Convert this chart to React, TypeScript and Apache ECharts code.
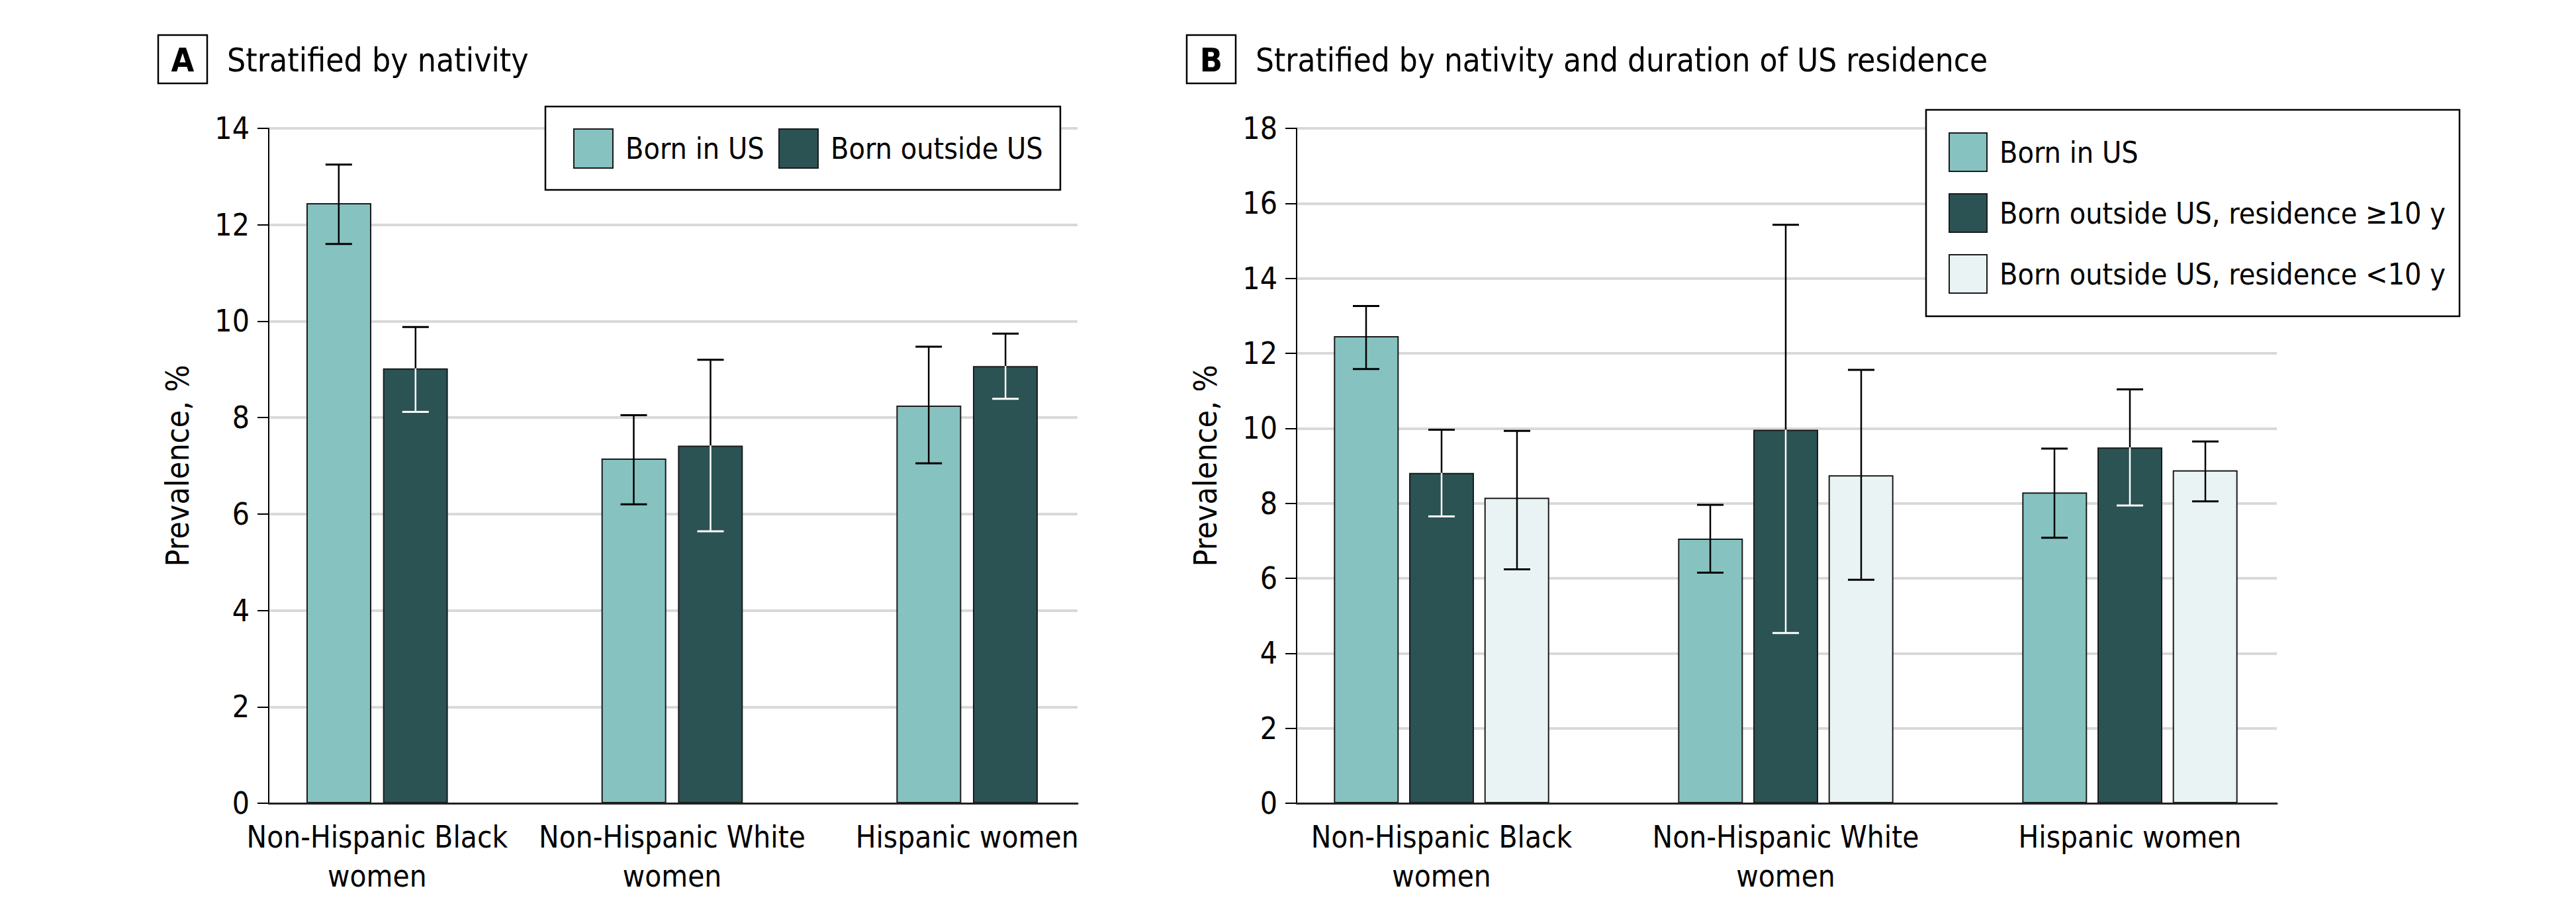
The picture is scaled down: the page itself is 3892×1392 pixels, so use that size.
import React, { useEffect, useRef } from "react";
import * as echarts from "echarts";

const categories = ["Non-Hispanic Black women", "Non-Hispanic White women", "Hispanic women"];

// Panel A: stratified by nativity
const seriesNamesA = ["Born in US", "Born outside US"];
const bornUS_A = [12.45, 7.15, 8.25];
const bornUS_A_low = [11.6, 6.2, 7.05];
const bornUS_A_high = [13.25, 8.05, 9.47];
const bornOut_A = [9.02, 7.42, 9.07];
const bornOut_A_low = [8.12, 5.64, 8.39];
const bornOut_A_high = [9.88, 9.2, 9.74];

// Panel B: stratified by nativity and duration of US residence
const seriesNamesB = ["Born in US", "Born outside US, residence \u226510 y", "Born outside US, residence <10 y"];
const bornUS_B = [12.46, 7.06, 8.29];
const bornUS_B_low = [11.58, 6.15, 7.08];
const bornUS_B_high = [13.26, 7.96, 9.46];
const ge10_B = [8.81, 9.96, 9.49];
const ge10_B_low = [7.65, 4.54, 7.94];
const ge10_B_high = [9.96, 15.43, 11.04];
const lt10_B = [8.15, 8.75, 8.88];
const lt10_B_low = [6.24, 5.96, 8.05];
const lt10_B_high = [9.93, 11.56, 9.65];

const yTicksA = { min: 0, max: 14, interval: 2 };
const yTicksB = { min: 0, max: 18, interval: 2 };

const FONT = "'Liberation Sans Narrow', 'Arial Narrow', 'DejaVu Sans Condensed', sans-serif";
const TEAL = "#86C2C0";
const DARK = "#2B5353";
const LIGHT = "#E9F3F4";

function labelFormatter(v: string) {
  return v.startsWith("Non-Hispanic") ? v.replace(" women", "\nwomen") : v;
}

function barSeries(name: string, data: number[], color: string, axisIdx: number, gap: string) {
  return {
    type: "bar",
    name,
    xAxisIndex: axisIdx,
    yAxisIndex: axisIdx,
    data,
    barWidth: 98,
    barGap: gap,
    itemStyle: { color, borderColor: "#1a1a1a", borderWidth: 2 },
    z: 2,
  };
}

function errSeries(values: number[], low: number[], high: number[], axisIdx: number, offset: number, innerColor: string) {
  return {
    type: "custom",
    xAxisIndex: axisIdx,
    yAxisIndex: axisIdx,
    z: 4,
    silent: true,
    data: values.map((v, i) => [i, v, low[i], high[i]]),
    encode: { x: 0, y: [1, 2, 3] },
    renderItem: (params: any, api: any) => {
      const idx = api.value(0);
      const v = api.value(1);
      const lo = api.value(2);
      const hi = api.value(3);
      const pV = api.coord([idx, v]);
      const pLo = api.coord([idx, lo]);
      const pHi = api.coord([idx, hi]);
      const x = pV[0] + offset;
      const cap = 20;
      const lw = 2.5;
      return {
        type: "group",
        children: [
          { type: "line", shape: { x1: x, y1: pHi[1], x2: x, y2: pV[1] }, style: { stroke: "#000", lineWidth: lw } },
          { type: "line", shape: { x1: x, y1: pV[1], x2: x, y2: pLo[1] }, style: { stroke: innerColor, lineWidth: lw } },
          { type: "line", shape: { x1: x - cap, y1: pHi[1], x2: x + cap, y2: pHi[1] }, style: { stroke: "#000", lineWidth: 3 } },
          { type: "line", shape: { x1: x - cap, y1: pLo[1], x2: x + cap, y2: pLo[1] }, style: { stroke: innerColor, lineWidth: 3 } },
        ],
      };
    },
  };
}

function axisPanel(gridIdx: number, ticks: { min: number; max: number; interval: number }) {
  return {
    gridIndex: gridIdx,
    type: "value",
    min: ticks.min,
    max: ticks.max,
    interval: ticks.interval,
    axisLine: { show: true, lineStyle: { color: "#000", width: 2 } },
    axisTick: { show: true, length: 17, lineStyle: { color: "#000", width: 2 } },
    axisLabel: { fontSize: 46, margin: 29, color: "#000", fontFamily: FONT },
    splitLine: { show: true, showMinLine: false, lineStyle: { color: "#d9d9d9", width: 4 } },
    name: "Prevalence, %",
    nameLocation: "middle",
    nameGap: 114,
    nameRotate: 90,
    nameTextStyle: { fontSize: 48, color: "#000", fontFamily: FONT },
  };
}

function hiddenY(gridIdx: number, ticks: { min: number; max: number; interval: number }) {
  return { gridIndex: gridIdx, type: "value", min: ticks.min, max: ticks.max, interval: ticks.interval, show: false, splitLine: { show: false } };
}

function baseX(gridIdx: number) {
  return {
    gridIndex: gridIdx,
    type: "category",
    data: [""],
    axisLine: { show: true, lineStyle: { color: "#222", width: 3 } },
    axisTick: { show: false },
    axisLabel: { show: false },
    z: 3,
  };
}

function catX(gridIdx: number) {
  return {
    gridIndex: gridIdx,
    type: "category",
    data: categories,
    axisLine: { show: false },
    axisTick: { show: false },
    axisLabel: { interval: 0, fontSize: 45.5, lineHeight: 59, margin: 22, color: "#000", fontFamily: FONT, formatter: labelFormatter },
  };
}

function legendItem(left: number, top: number, names: string[], orient: string, w: number, h: number, gap: number) {
  return {
    left,
    top,
    orient,
    itemWidth: w,
    itemHeight: h,
    itemGap: gap,
    icon: "rect",
    padding: 0,
    selectedMode: false,
    z: 6,
    data: names,
    textStyle: { fontSize: 44.5, color: "#000", fontFamily: FONT, padding: [0, 0, 0, 14] },
  };
}

export default function App() {
  const ref = useRef<HTMLDivElement>(null);
  useEffect(() => {
    if (!ref.current) return;
    const chart = echarts.init(ref.current, undefined, { renderer: "svg" });
    const option: any = {
      animation: false,
      backgroundColor: "#fff",
      textStyle: { fontFamily: FONT, color: "#000" },
      grid: [
        { left: 406, top: 194, width: 1222, height: 1020 },
        { left: 347, top: 194, width: 1337, height: 1020 },
        { left: 1959, top: 194, width: 1481, height: 1020 },
        { left: 1918, top: 194, width: 1560, height: 1020 },
      ],
      xAxis: [baseX(0), catX(1), baseX(2), catX(3)],
      yAxis: [axisPanel(0, yTicksA), hiddenY(1, yTicksA), axisPanel(2, yTicksB), hiddenY(3, yTicksB)],
      legend: [
        legendItem(866, 194, [seriesNamesA[0]], "horizontal", 59, 59, 27),
        legendItem(1176, 194, [seriesNamesA[1]], "horizontal", 59, 59, 27),
        legendItem(2944, 200, seriesNamesB, "vertical", 57, 58, 32),
      ],
      graphic: [
        { type: "rect", z: 5, shape: { x: 824, y: 161, width: 778, height: 126 }, style: { fill: "#fff", stroke: "#000", lineWidth: 2.5 } },
        { type: "rect", z: 5, shape: { x: 2910, y: 166, width: 806, height: 312 }, style: { fill: "#fff", stroke: "#000", lineWidth: 2.5 } },
        { type: "rect", z: 5, shape: { x: 239, y: 53, width: 74, height: 73 }, style: { fill: "#fff", stroke: "#000", lineWidth: 2.5 } },
        { type: "text", z: 6, style: { text: "A", x: 276, y: 91, fontSize: 50, fontWeight: "bold", fontFamily: FONT, fill: "#000", align: "center", verticalAlign: "middle" } },
        { type: "text", z: 6, style: { text: "Stratified by nativity", x: 343, y: 91, fontSize: 49.5, fontFamily: FONT, fill: "#000", align: "left", verticalAlign: "middle" } },
        { type: "rect", z: 5, shape: { x: 1793, y: 53, width: 74, height: 73 }, style: { fill: "#fff", stroke: "#000", lineWidth: 2.5 } },
        { type: "text", z: 6, style: { text: "B", x: 1830, y: 91, fontSize: 50, fontWeight: "bold", fontFamily: FONT, fill: "#000", align: "center", verticalAlign: "middle" } },
        { type: "text", z: 6, style: { text: "Stratified by nativity and duration of US residence", x: 1897, y: 91, fontSize: 49, fontFamily: FONT, fill: "#000", align: "left", verticalAlign: "middle" } },
      ],
      series: [
        barSeries(seriesNamesA[0], bornUS_A, TEAL, 1, "18%"),
        barSeries(seriesNamesA[1], bornOut_A, DARK, 1, "18%"),
        errSeries(bornUS_A, bornUS_A_low, bornUS_A_high, 1, -58, "#000"),
        errSeries(bornOut_A, bornOut_A_low, bornOut_A_high, 1, 58, "#fff"),
        barSeries(seriesNamesB[0], bornUS_B, TEAL, 3, "16%"),
        barSeries(seriesNamesB[1], ge10_B, DARK, 3, "16%"),
        barSeries(seriesNamesB[2], lt10_B, LIGHT, 3, "16%"),
        errSeries(bornUS_B, bornUS_B_low, bornUS_B_high, 3, -114, "#000"),
        errSeries(ge10_B, ge10_B_low, ge10_B_high, 3, 0, "#fff"),
        errSeries(lt10_B, lt10_B_low, lt10_B_high, 3, 114, "#000"),
      ],
    };
    chart.setOption(option);
    return () => chart.dispose();
  }, []);
  return <div ref={ref} style={{ position: "fixed", left: 0, top: 0, width: 3892, height: 1392, background: "#fff" }} />;
}
